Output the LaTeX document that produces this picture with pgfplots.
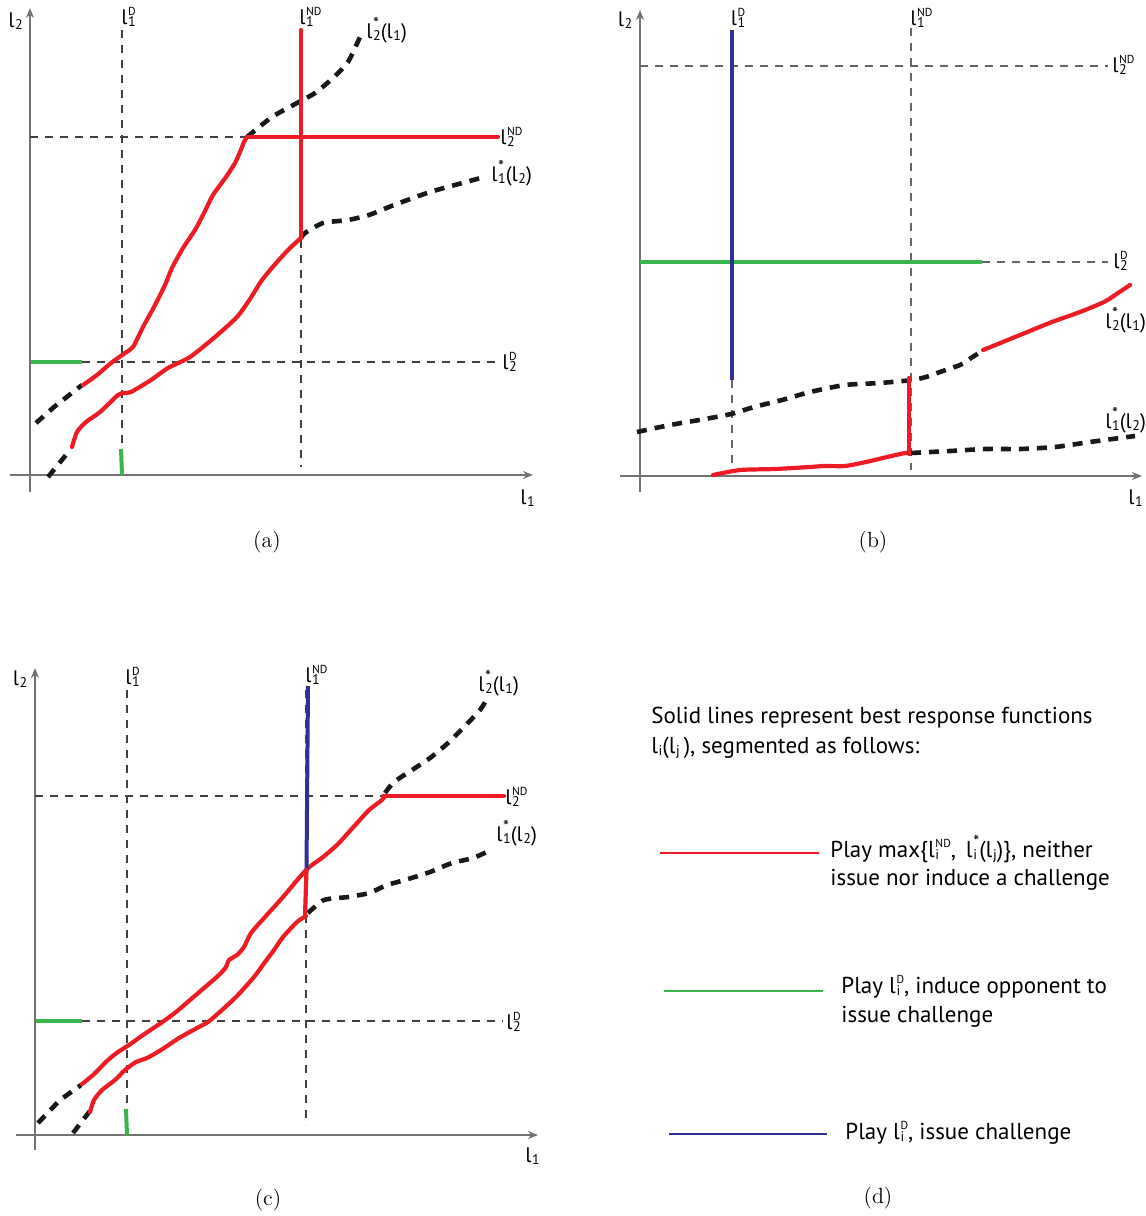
\documentclass[border=0pt]{standalone}
\usepackage{fontspec}
\setsansfont{PT Sans}
\usepackage{pgfplots}
\pgfplotsset{compat=1.18}
\usetikzlibrary{arrows.meta}
\definecolor{myred}{HTML}{ED1C24}
\definecolor{mygreen}{HTML}{39B54A}
\definecolor{myblue}{HTML}{2E3192}
\newcommand{\subf}{\fontsize{7}{7}\selectfont}
\newcommand{\supf}{\fontsize{5.8}{6}\selectfont}
\newcommand{\st}{{\fontsize{8.5}{8}\selectfont *}}
\newlength\lsA \newlength\lsB
\newcommand{\ls}[2]{l\kern0.3pt\settowidth\lsA{\subf #1}\settowidth\lsB{\supf #2}\ifdim\lsA<\lsB\setlength\lsA{\lsB}\fi\makebox[\lsA][l]{\rlap{\raisebox{-1pt}{\subf #1}}\raisebox{4.6pt}{\supf #2}}}
\newcommand{\lsub}[1]{l\kern0.3pt\raisebox{-1pt}{\subf #1}}
\pgfplotsset{
  panel/.style={x=0.5pt, y=0.5pt, axis lines*=middle, enlargelimits=false, clip=false,
    ticks=none, no marks, anchor=south west,
    axis line style={draw=black!55, line width=0.6pt, -{Stealth[length=5pt,width=4pt]}}},
  guide/.style={black!75, line width=0.6pt, dash pattern=on 4pt off 3.5pt},
  br/.style={myred, line width=2.1pt, line join=round, line cap=round},
  bd/.style={black!90, line width=2.3pt, dash pattern=on 5pt off 4pt, line join=round},
  gr/.style={mygreen, line width=2pt},
  bl/.style={myblue, line width=2pt},
}
\tikzset{
  labtxt/.style={font=\sffamily\fontsize{10.5}{13}\selectfont, inner sep=0pt, anchor=west},
  captxt/.style={font=\rmfamily\fontsize{11}{13}\selectfont},
  legtxt/.style={font=\sffamily\fontsize{11.5}{13}\selectfont, inner sep=0pt, anchor=base west},
}
\begin{document}
\begin{tikzpicture}
\useasboundingbox (0,0) rectangle (573pt,-608pt);
% ---------------- panel (a)
\begin{axis}[panel, at={(5pt,-246pt)}, xmin=-20, xmax=503, ymin=-17, ymax=467]
\addplot[guide] coordinates {(92,445) (92,26)};
\addplot[guide] coordinates {(271,445) (271,8)};
\addplot[guide] coordinates {(0,338) (217,338)};
\addplot[guide] coordinates {(52,113) (465,113)};
\addplot[gr] coordinates {(1,113) (52,113)};
\addplot[gr] coordinates {(91,26) (92,0)};
\addplot[bd] coordinates {(6,52) (24,68) (52,90)};
\addplot[br, smooth, tension=0.4] coordinates {(53,90) (67,100) (81,112) (95,122) (103,128) (113,148) (124,168) (135,190) (142,207) (153,227) (165,245) (174,262) (183,280) (196,298) (205,312) (210,323) (214,333) (217,338)};
\addplot[bd, smooth, tension=0.4] coordinates {(217,338) (242,358) (267,372) (285,382) (303,397) (318,413) (330,438)};
\addplot[bd] coordinates {(18,-2) (40,25)};
\addplot[br, smooth, tension=0.4] coordinates {(42,28) (47,43) (56,53) (70,63) (88,80) (94,82) (101,83) (121,95) (138,107) (160,118) (185,138) (207,158) (220,176) (232,195) (247,213) (260,227) (271,237)};
\addplot[bd, smooth, tension=0.4] coordinates {(271,237) (275,242) (293,252) (318,255) (339,260) (364,270) (400,283) (436,293) (454,298)};
\addplot[br] coordinates {(271,445) (271,237)};
\addplot[br] coordinates {(217,338) (468,338)};
\node[labtxt] at (axis cs:-22,454) {\lsub{2}};
\node[labtxt] at (axis cs:490,-23) {\lsub{1}};
\node[labtxt] at (axis cs:91,458) {\ls{1}{D}};
\node[labtxt] at (axis cs:269,458) {\ls{1}{ND}};
\node[labtxt] at (axis cs:336,445) {\ls{2}{\st}(\lsub{1})};
\node[labtxt] at (axis cs:470,338) {\ls{2}{ND}};
\node[labtxt] at (axis cs:461,302) {\ls{1}{\st}(\lsub{2})};
\node[labtxt] at (axis cs:472,113) {\ls{2}{D}};
\node[captxt] at (axis cs:237,-67) {(a)};
\end{axis}
% ---------------- panel (b)
\begin{axis}[panel, at={(310pt,-246pt)}, xmin=-20, xmax=502, ymin=-16, ymax=466]
\addplot[guide, black!60] coordinates {(92,96) (92,6)};
\addplot[guide, black!60] coordinates {(271,448) (271,6)};
\addplot[guide, black!60] coordinates {(0,410) (468,410)};
\addplot[guide, black!60] coordinates {(342,214) (468,214)};
\addplot[gr] coordinates {(0,214) (342,214)};
\addplot[bl] coordinates {(92,446) (92,96)};
\addplot[bd, smooth, tension=0.4] coordinates {(-3,44) (30,51) (65,57) (91,62) (114,69) (142,76) (170,84) (205,91) (240,93) (272,96) (286,99) (300,104) (320,111) (331,118) (342,125)};
\addplot[br, smooth, tension=0.4] coordinates {(343,126) (380,141) (412,154) (440,164) (464,174) (478,183) (490,191)};
\addplot[br, smooth, tension=0.4] coordinates {(73,1) (100,6) (135,7) (170,9) (184,10) (205,10) (226,14) (247,19) (265,23) (271,23)};
\addplot[bd, smooth, tension=0.4] coordinates {(271,23) (310,25) (345,27) (380,27) (415,29) (450,34) (495,40)};
\addplot[br] coordinates {(269,98) (269,22)};
\node[labtxt] at (axis cs:-22.5,456) {\lsub{2}};
\node[labtxt] at (axis cs:488,-22) {\lsub{1}};
\node[labtxt] at (axis cs:90.5,458) {\ls{1}{D}};
\node[labtxt] at (axis cs:270,458) {\ls{1}{ND}};
\node[labtxt] at (axis cs:472,411) {\ls{2}{ND}};
\node[labtxt] at (axis cs:473,215) {\ls{2}{D}};
\node[labtxt] at (axis cs:465,156) {\ls{2}{\st}(\lsub{1})};
\node[labtxt] at (axis cs:465,56) {\ls{1}{\st}(\lsub{2})};
\node[captxt] at (axis cs:233,-66) {(b)};
\end{axis}
% ---------------- panel (c)
\begin{axis}[panel, at={(8pt,-575pt)}, xmin=-19, xmax=503, ymin=-15, ymax=467]
\addplot[guide] coordinates {(92,445) (92,27)};
\addplot[guide] coordinates {(271,445) (271,10)};
\addplot[guide] coordinates {(0,339) (348,339)};
\addplot[guide] coordinates {(47,114) (468,114)};
\addplot[gr] coordinates {(1,114) (47,114)};
\addplot[gr] coordinates {(91,26) (92,0)};
\addplot[bd] coordinates {(3,12) (25,35) (46,50)};
\addplot[br, smooth, tension=0.4] coordinates {(47,51) (58,60) (73,75) (83,83) (94,90) (108,100) (126,112) (141,123) (155,135) (169,147) (184,160) (191,168) (194,175) (202,180) (209,188) (216,202) (230,218) (248,238) (271,265) (288,278) (302,290) (313,302) (323,313) (334,325) (347,335) (349,338)};
\addplot[bd, smooth, tension=0.4] coordinates {(350,342) (359,353) (377,365) (395,377) (413,392) (431,410) (445,425) (452,436)};
\addplot[bd] coordinates {(38,2) (55,24)};
\addplot[br, smooth, tension=0.4] coordinates {(55,23) (59,35) (67,45) (80,55) (90,65) (101,73) (112,77) (126,85) (144,97) (162,107) (173,113) (187,125) (202,139) (219,158) (230,173) (239,185) (248,198) (262,213) (271,219)};
\addplot[bd, smooth, tension=0.4] coordinates {(273,222) (289,235) (313,238) (334,242) (352,250) (370,255) (395,263) (417,272) (438,277) (456,285)};
\addplot[bl] coordinates {(273,449) (271.5,265)};
\addplot[br] coordinates {(271.5,265) (270,219)};
\addplot[br] coordinates {(348,339) (469,339)};
\node[labtxt] at (axis cs:-22.5,456) {\lsub{2}};
\node[labtxt] at (axis cs:490,-21) {\lsub{1}};
\node[labtxt] at (axis cs:90,458) {\ls{1}{D}};
\node[labtxt] at (axis cs:270,460) {\ls{1}{ND}};
\node[labtxt] at (axis cs:443,452) {\ls{2}{\st}(\lsub{1})};
\node[labtxt] at (axis cs:470,338) {\ls{2}{ND}};
\node[labtxt] at (axis cs:461,302) {\ls{1}{\st}(\lsub{2})};
\node[labtxt] at (axis cs:471,113) {\ls{2}{D}};
\node[captxt] at (axis cs:233,-65) {(c)};
\end{axis}
% ---------------- panel (d)
\begin{axis}[at={(310pt,-608pt)}, anchor=south west, x=0.5pt, y=0.5pt, xmin=620, xmax=1146, ymin=0, ymax=560,
  hide axis, clip=false, no marks, enlargelimits=false]
\addplot[myred, line width=1.1pt] coordinates {(660,363) (819,363)};
\addplot[mygreen, line width=1.1pt] coordinates {(664,225) (823,225)};
\addplot[myblue, line width=1.1pt] coordinates {(669,82) (827,82)};
\node[legtxt] at (axis cs:651,493) {Solid lines represent best response functions};
\node[legtxt] at (axis cs:651,463) {\lsub{i}(\lsub{j}\,), segmented as follows:};
\node[legtxt] at (axis cs:830,359) {Play max\{\ls{i}{ND},\, \ls{i}{\st}(\lsub{j})\}, neither};
\node[legtxt] at (axis cs:830,331) {issue nor induce a challenge};
\node[legtxt] at (axis cs:841,223) {Play \ls{i}{D}, induce opponent to};
\node[legtxt] at (axis cs:841,194) {issue challenge};
\node[legtxt] at (axis cs:845,77) {Play \ls{i}{D}, issue challenge};
\node[captxt] at (axis cs:878,18) {(d)};
\end{axis}
\end{tikzpicture}
\end{document}
